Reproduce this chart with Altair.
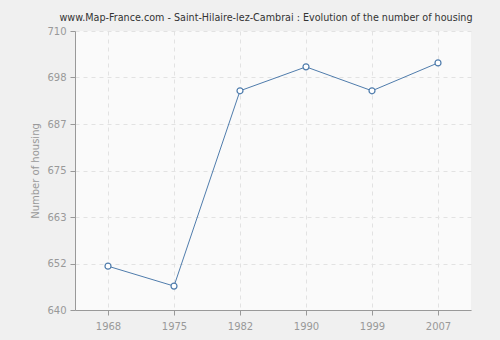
import altair as alt
import pandas as pd

years = ["1968", "1975", "1982", "1990", "1999", "2007"]
housing = [651, 646, 695, 701, 695, 702]
y_ticks = [640, 640 + 70/6, 640 + 140/6, 675, 640 + 280/6, 640 + 350/6, 710]

df = pd.DataFrame({"year": years, "housing": housing})

x = alt.X("year:O", sort=years, title=None,
          scale=alt.Scale(type="point", padding=0.5),
          axis=alt.Axis(labelAngle=0, labelColor="#999999", labelFont="DejaVu Sans",
                        labelFontSize=10, labelPadding=6, tickSize=5, tickColor="#999999",
                        domainColor="#999999", grid=True, gridDash=[4, 4],
                        gridColor="#e2e2e2"))
y = alt.Y("housing:Q", title="Number of housing",
          scale=alt.Scale(domain=[640, 710], nice=False, zero=False),
          axis=alt.Axis(values=y_ticks, format=".0f", labelColor="#999999",
                        labelFont="DejaVu Sans", labelFontSize=10, labelPadding=4,
                        tickSize=5, tickColor="#999999", domainColor="#999999",
                        grid=True, gridDash=[4, 4], gridColor="#e2e2e2",
                        titleColor="#999999", titleFont="DejaVu Sans",
                        titleFontSize=10, titleFontWeight="normal", titlePadding=6))

line = alt.Chart(df).mark_line(color="#4f7cac", strokeWidth=1).encode(x=x, y=y)
pts = alt.Chart(df).mark_point(shape="circle", filled=True, fill="white",
                               stroke="#4f7cac", strokeWidth=1.2, size=36,
                               opacity=1).encode(x=x, y=y)

chart = (line + pts).properties(
    width=396, height=279,
    title=alt.TitleParams(
        "www.Map-France.com - Saint-Hilaire-lez-Cambrai : Evolution of the number of housing",
        font="DejaVu Sans", fontSize=9.6, fontWeight="normal", color="#333333",
        anchor="middle", offset=3, dx=-7),
    autosize=alt.AutoSizeParams(type="none"),
    padding={"left": 75, "top": 31, "right": 29, "bottom": 30},
    background="#f0f0f0",
).configure_view(fill="#fafafa", stroke=None)

chart.save("out.html", embed_options={"renderer": "svg", "actions": False})
